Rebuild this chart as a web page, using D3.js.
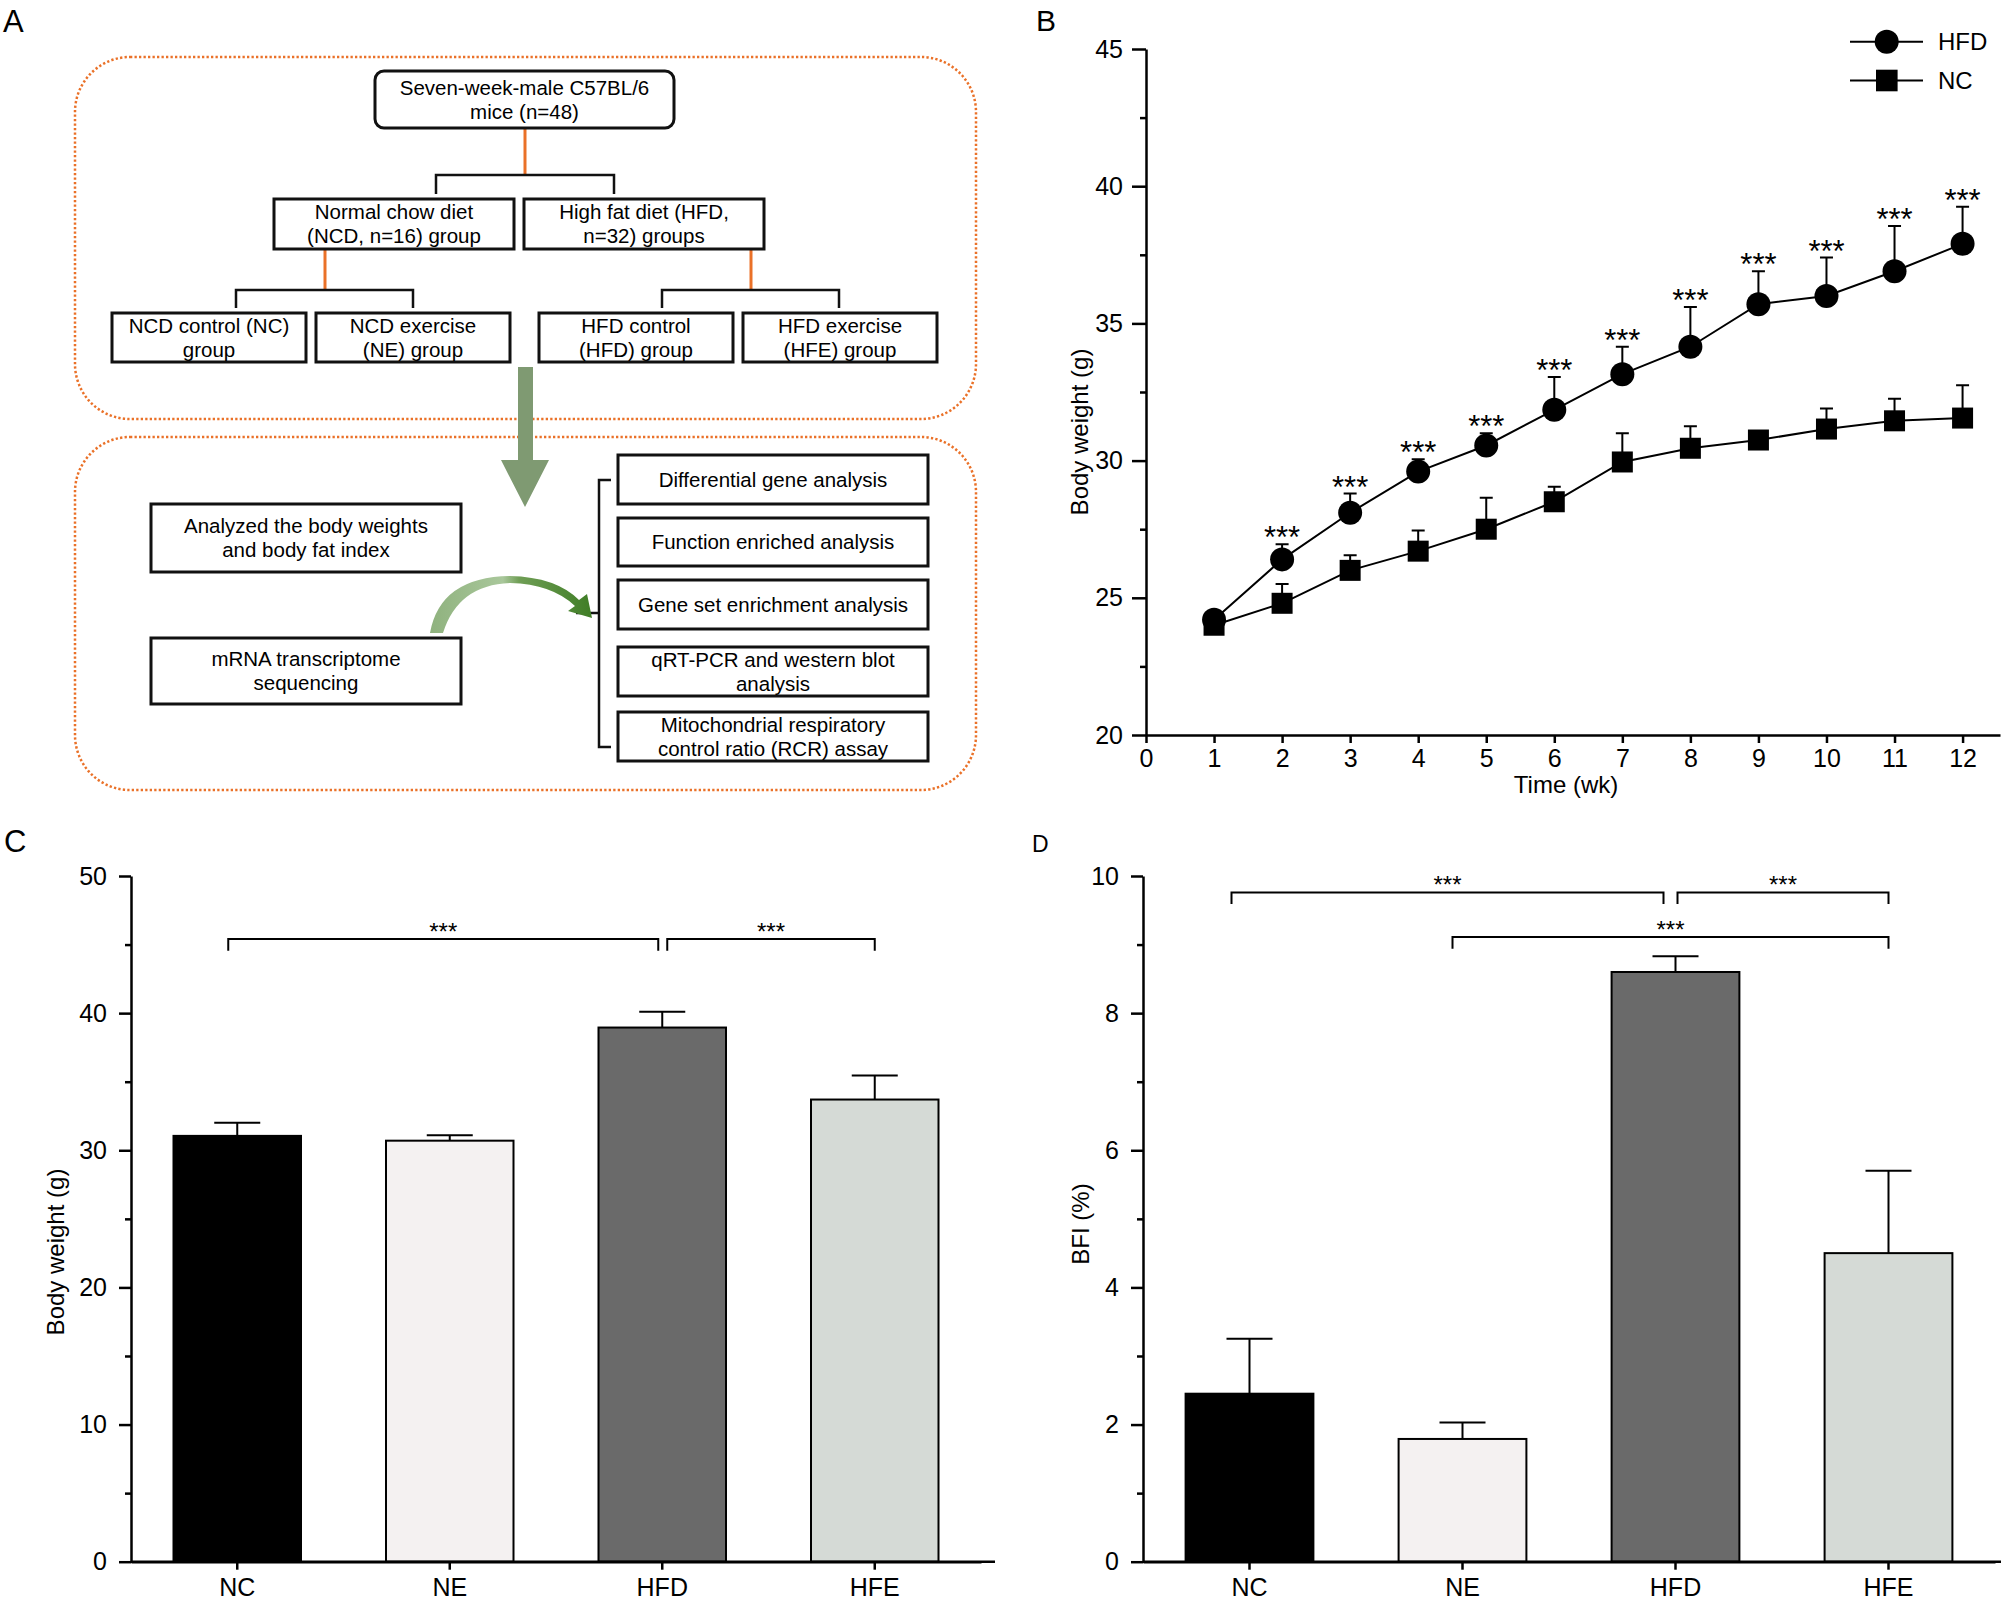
<!DOCTYPE html>
<html>
<head>
<meta charset="utf-8">
<script src="https://cdn.jsdelivr.net/npm/d3@7"></script>
<style>
  body { margin: 0; background: #fff; }
  svg { display: block; font-family: "Liberation Sans", Arial, sans-serif; }
</style>
</head>
<body>
<script>
/* ----- data ----- */

// B: weekly body weight (g), mean and upper SEM
var weeks = [1, 2, 3, 4, 5, 6, 7, 8, 9, 10, 11, 12];
var hfdWeight = [24.2, 26.4, 28.1, 29.6, 30.55, 31.85, 33.15, 34.15, 35.7, 36.0, 36.9, 37.9];
var hfdErr    = [0.2, 0.55, 0.7, 0.45, 0.45, 1.2, 1.0, 1.45, 1.2, 1.4, 1.65, 1.35];
var ncWeight  = [24.0, 24.8, 26.0, 26.7, 27.5, 28.5, 29.95, 30.45, 30.75, 31.15, 31.45, 31.55];
var ncErr     = [0.25, 0.7, 0.55, 0.75, 1.15, 0.55, 1.05, 0.8, 0.15, 0.75, 0.8, 1.2];
var hfdSig    = ["", "***", "***", "***", "***", "***", "***", "***", "***", "***", "***", "***"];
var weekTicks = [0, 1, 2, 3, 4, 5, 6, 7, 8, 9, 10, 11, 12];
var weightTicks = [20, 25, 30, 35, 40, 45];

// C / D: group bars
var groups = ["NC", "NE", "HFD", "HFE"];
var groupColors = ["#000000", "#f4f1f1", "#6a6a6a", "#d5dad6"];
var bodyWeight    = [31.05, 30.7, 38.95, 33.7];
var bodyWeightErr = [0.95, 0.4, 1.15, 1.75];
var bfi    = [2.45, 1.79, 8.6, 4.5];
var bfiErr = [0.8, 0.24, 0.23, 1.2];
var bwBrackets  = [["NC", "HFD", 45.4, "***"], ["HFD", "HFE", 45.4, "***"]];
var bfiBrackets = [["NC", "HFD", 9.76, "***"], ["HFD", "HFE", 9.76, "***"], ["NE", "HFE", 9.11, "***"]];

// A: flow chart text
var topBox    = ["Seven-week-male C57BL/6", "mice (n=48)"];
var dietBoxes = [["Normal chow diet", "(NCD, n=16) group"], ["High fat diet (HFD,", "n=32) groups"]];
var groupBoxes = [["NCD control (NC)", "group"], ["NCD exercise", "(NE) group"],
                  ["HFD control", "(HFD) group"], ["HFD exercise", "(HFE) group"]];
var leftBoxes  = [["Analyzed the body weights", "and body fat index"], ["mRNA transcriptome", "sequencing"]];
var rightBoxes = [["Differential gene analysis"], ["Function enriched analysis"], ["Gene set enrichment analysis"],
                  ["qRT-PCR and western blot", "analysis"], ["Mitochondrial respiratory", "control ratio (RCR) assay"]];


var svg = d3.select("body").append("svg").attr("width", 2001).attr("height", 1602);

// panel letters
svg.append("text").attr("x", 3).attr("y", 32).style("font-size", "31px").text("A");
svg.append("text").attr("x", 1036).attr("y", 31).style("font-size", "30px").text("B");
svg.append("text").attr("x", 4).attr("y", 852).style("font-size", "31px").text("C");
svg.append("text").attr("x", 1032).attr("y", 852).style("font-size", "23px").text("D");

/* ----- A : flow chart ----- */
var orange = "#ea7128";
var gA = svg.append("g");

gA.selectAll("rect.frame").data([[57, 362], [437, 353]]).join("rect")
    .attr("class", "frame")
    .attr("x", 75).attr("y", d => d[0]).attr("width", 901).attr("height", d => d[1])
    .attr("rx", 55).attr("ry", 55)
    .style("fill", "none").style("stroke", orange)
    .style("stroke-width", 2.5).style("stroke-dasharray", "2.3 2.2");

// draws one box with centred lines of text
function flowBox(x, y, w, h, lines, r) {
  gA.append("rect").attr("x", x).attr("y", y).attr("width", w).attr("height", h)
    .attr("rx", r || 0)
    .style("fill", "#fff").style("stroke", "#111").style("stroke-width", 3);
  var cy = y + h / 2;
  lines.forEach(function(t, i) {
    gA.append("text")
      .attr("x", x + w / 2)
      .attr("y", cy + (i - (lines.length - 1) / 2) * 24 + 7)
      .attr("text-anchor", "middle")
      .style("font-size", "20.5px")
      .text(t);
  });
}

// connectors
function conn(d, col, w) {
  gA.append("path").attr("d", d)
    .style("fill", "none").style("stroke", col).style("stroke-width", w || 2.5);
}
conn("M525,128V176", orange, 3);
conn("M436,194V175H614V194", "#111");
conn("M325,249V290", orange, 3);
conn("M751,249V290", orange, 3);
conn("M236,308V290H413V308", "#111");
conn("M662,308V290H839V308", "#111");
conn("M611,480H599V747H611", "#111");
conn("M576,613H599", "#111");

flowBox(375, 71, 299, 57, topBox, 9);
flowBox(274, 199, 240, 50, dietBoxes[0]);
flowBox(524, 199, 240, 50, dietBoxes[1]);
[112, 316, 539, 743].forEach(function(x, i) { flowBox(x, 313, 194, 49, groupBoxes[i]); });
flowBox(151, 504, 310, 68, leftBoxes[0]);
flowBox(151, 638, 310, 66, leftBoxes[1]);
[[455, 49], [518, 48], [580, 49], [647, 49], [712, 49]].forEach(function(p, i) {
  flowBox(618, p[0], 310, p[1], rightBoxes[i]);
});

// big down arrow
gA.append("path")
  .attr("d", "M518,367H533V460H549L525,507L501,460H518Z")
  .style("fill", "#7f9a72");

// curved arrow
var grad = svg.append("defs").append("linearGradient").attr("id", "gArc")
  .attr("x1", "0%").attr("x2", "100%");
grad.append("stop").attr("offset", "0%").attr("stop-color", "#8fb27e");
grad.append("stop").attr("offset", "45%").attr("stop-color", "#a9c79b");
grad.append("stop").attr("offset", "55%").attr("stop-color", "#6f9e55");
grad.append("stop").attr("offset", "100%").attr("stop-color", "#3f7d26");
gA.append("path")
  .attr("d", "M430,633Q440,577 510,576Q556,577 579,600L587,594L592,618L568,611L575,606Q552,584 510,583Q458,585 443,633Z")
  .style("fill", "url(#gArc)");

/* ----- B : body weight over time ----- */
var gB = svg.append("g");
var xB = d3.scaleLinear().domain([0, 12.55]).range([1146, 2000]);
var yB = d3.scaleLinear().domain([20, 45]).range([735, 49]);

function styleAxis(g) {
  g.select(".domain").style("stroke-width", 2.5);
  g.selectAll(".tick line").style("stroke-width", 2.5);
  g.selectAll(".tick text").style("font-size", "25px").style("font-family", "Liberation Sans, Arial, sans-serif");
}

gB.append("g").attr("transform", "translate(0,735)")
  .call(d3.axisBottom(xB).tickValues(weekTicks).tickSize(8).tickPadding(6).tickSizeOuter(0))
  .call(styleAxis);
gB.append("g").attr("transform", "translate(1146,0)")
  .call(d3.axisLeft(yB).tickValues(weightTicks).tickSize(14).tickPadding(9).tickSizeOuter(0))
  .call(styleAxis);
gB.append("g").attr("transform", "translate(1146,0)")
  .call(d3.axisLeft(yB).tickValues(d3.range(22.5, 45, 5)).tickSize(6).tickFormat(""))
  .call(g => g.select(".domain").remove())
  .call(styleAxis);

gB.append("text").attr("transform", "translate(1088,432) rotate(-90)")
  .attr("text-anchor", "middle").style("font-size", "24px").text("Body weight (g)");
gB.append("text").attr("x", 1566).attr("y", 793)
  .attr("text-anchor", "middle").style("font-size", "24px").text("Time (wk)");

var hfdData = weeks.map((w, i) => ({ w: w, v: hfdWeight[i], e: hfdErr[i], s: hfdSig[i] }));
var ncData  = weeks.map((w, i) => ({ w: w, v: ncWeight[i],  e: ncErr[i] }));
var line = d3.line().x(d => xB(d.w)).y(d => yB(d.v));

function drawSeries(data, shape) {
  var g = gB.append("g");
  g.append("path").datum(data).attr("d", line)
    .style("fill", "none").style("stroke", "#000").style("stroke-width", 2);
  g.selectAll("path.err").data(data).join("path").attr("class", "err")
    .attr("d", d => "M" + xB(d.w) + "," + yB(d.v) + "V" + yB(d.v + d.e) +
                    "M" + (xB(d.w) - 6.5) + "," + yB(d.v + d.e) + "h13")
    .style("fill", "none").style("stroke", "#000").style("stroke-width", 2);
  if (shape === "circle") {
    g.selectAll("circle").data(data).join("circle")
      .attr("cx", d => xB(d.w)).attr("cy", d => yB(d.v)).attr("r", 12);
  } else {
    g.selectAll("rect").data(data).join("rect")
      .attr("x", d => xB(d.w) - 10.5).attr("y", d => yB(d.v) - 10.5)
      .attr("width", 21).attr("height", 21);
  }
  return g;
}
drawSeries(ncData, "square");
var hfdG = drawSeries(hfdData, "circle");
hfdG.selectAll("text").data(hfdData.filter(d => d.s)).join("text")
  .attr("x", d => xB(d.w)).attr("y", d => yB(d.v + d.e) + 4)
  .attr("text-anchor", "middle").style("font-size", "31px").text(d => d.s);

// legend
var legend = [["HFD", "circle"], ["NC", "square"]];
legend.forEach(function(l, i) {
  var ly = 41.7 + i * 38.8;
  gB.append("path").attr("d", "M1850," + ly + "H1923").style("stroke", "#000").style("stroke-width", 2);
  if (l[1] === "circle") gB.append("circle").attr("cx", 1886.7).attr("cy", ly).attr("r", 12);
  else gB.append("rect").attr("x", 1876).attr("y", ly - 10.8).attr("width", 21.6).attr("height", 21.6);
  gB.append("text").attr("x", 1938).attr("y", ly + 8.5).style("font-size", "24px").text(l[0]);
});

/* ----- C / D : group bar charts ----- */
function barPanel(o) {
  var g = svg.append("g");
  var x = d3.scaleBand().domain(groups).range([o.x0, o.x1]).paddingInner(0.4).paddingOuter(0.2);
  var y = d3.scaleLinear().domain([0, o.max]).range([1561.7, 876]);
  var rows = groups.map((k, i) => ({ k: k, v: o.vals[i], e: o.errs[i], c: groupColors[i] }));

  g.selectAll("rect").data(rows).join("rect")
    .attr("x", d => x(d.k)).attr("width", x.bandwidth())
    .attr("y", d => y(d.v)).attr("height", d => y(0) - y(d.v))
    .style("fill", d => d.c).style("stroke", "#000").style("stroke-width", 2);

  g.selectAll("path.err").data(rows).join("path").attr("class", "err")
    .attr("d", d => {
      var cx = x(d.k) + x.bandwidth() / 2;
      return "M" + cx + "," + y(d.v) + "V" + y(d.v + d.e) + "M" + (cx - 23) + "," + y(d.v + d.e) + "h46";
    })
    .style("fill", "none").style("stroke", "#000").style("stroke-width", 2);

  g.append("g").attr("transform", "translate(0,1561.7)")
    .call(d3.axisBottom(x).tickSize(8).tickPadding(9).tickSizeOuter(0))
    .call(styleAxis);
  g.append("path").attr("d", "M" + o.x0 + ",1561.7H" + o.xEnd).style("stroke", "#000").style("stroke-width", 2.5);
  g.append("g").attr("transform", "translate(" + o.x0 + ",0)")
    .call(d3.axisLeft(y).ticks(5).tickSize(12).tickPadding(12).tickSizeOuter(0))
    .call(styleAxis);
  g.append("g").attr("transform", "translate(" + o.x0 + ",0)")
    .call(d3.axisLeft(y).tickValues(d3.range(o.max / 10, o.max, o.max / 5)).tickSize(6).tickFormat(""))
    .call(g2 => g2.select(".domain").remove())
    .call(styleAxis);

  g.append("text").attr("transform", "translate(" + o.labelX + "," + o.labelY + ") rotate(-90)")
    .attr("text-anchor", "middle").style("font-size", "24px").text(o.label);

  // significance brackets (small insets so adjacent brackets do not touch)
  var legLen = (y(0) - y(o.max)) * 0.017;
  o.brackets.forEach(function(b) {
    var xa = x(b[0]) + x.bandwidth() / 2 + (b[0] === "HFD" ? o.inset[2] : b[0] === "NC" ? o.inset[0] : -10);
    var xb = x(b[1]) + x.bandwidth() / 2 + (b[1] === "HFD" ? o.inset[1] : 0);
    var by = y(b[2]);
    g.append("path").attr("d", "M" + xa + "," + (by + legLen) + "V" + by + "H" + xb + "V" + (by + legLen))
      .style("fill", "none").style("stroke", "#000").style("stroke-width", 2);
    g.append("text").attr("x", (xa + xb) / 2).attr("y", by + 1)
      .attr("text-anchor", "middle").style("font-size", "24px").text(b[3]);
  });
}

barPanel({ x0: 131, x1: 981, xEnd: 995, max: 50, vals: bodyWeight, errs: bodyWeightErr,
           label: "Body weight (g)", labelX: 64, labelY: 1252, brackets: bwBrackets, inset: [-9, -4, 5] });
barPanel({ x0: 1143, x1: 1995, xEnd: 2001, max: 10, vals: bfi, errs: bfiErr,
           label: "BFI (%)", labelX: 1089, labelY: 1224, brackets: bfiBrackets, inset: [-18, -12, 2] });
</script>
</body>
</html>
